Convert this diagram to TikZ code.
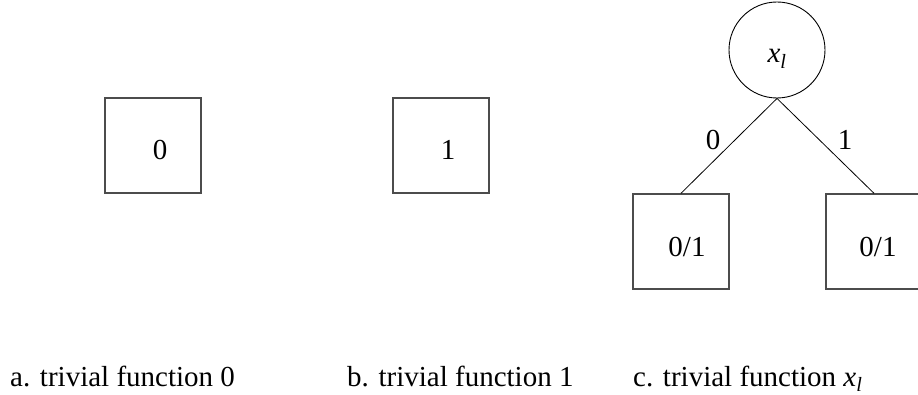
\documentclass[tikz,border=0pt]{standalone}
\usepackage{fontspec}
\setmainfont{Liberation Serif}
\newcommand{\xl}{\textit{x}\textsubscript{\textit{l}}}
\newcommand{\lowtext}[2]{\raisebox{-#1}[0pt][0pt]{#2}}
\begin{document}
\begin{tikzpicture}[x=1pt,y=-1pt,
  every node/.style={font=\fontsize{29}{34}\selectfont},
  leafbox/.style={draw=black!70, line width=1.4pt, rectangle, minimum width=96pt, minimum height=95pt, inner sep=0pt},
  varnode/.style={draw=black, line width=0.9pt, circle, minimum size=96pt, inner sep=0pt},
  edge/.style={draw=black, line width=0.8pt},
  caption/.style={anchor=base west, inner sep=0pt}]
\useasboundingbox (0,0) rectangle (918,395);
\clip (0,0) rectangle (918,395);
\node[leafbox] (b0) at (153,145.5) {\hspace{14pt}\lowtext{14pt}{0}};
\node[leafbox] (b1) at (441,145.5) {\hspace{14pt}\lowtext{14pt}{1}};
\node[varnode] (c) at (777,50) {\lowtext{13pt}{\xl}};
\node[leafbox] (l) at (681,241.5) {\hspace{12pt}\lowtext{15pt}{0/1}};
\node[leafbox] (r) at (874,241.5) {\hspace{8pt}\lowtext{15pt}{0/1}};
\draw[edge] (c.south) -- node[midway, xshift=-16pt, yshift=5.5pt] (e0) {0} (l.north);
\draw[edge] (c.south) -- node[midway, xshift=19.5pt, yshift=5.5pt] (e1) {1} (r.north);
\node[caption] (ca) at (10,386) {a. trivial function 0};
\node[caption] (cb) at (347,386) {b. trivial function 1};
\node[caption] (cc) at (633,386) {c. trivial function \xl};
\end{tikzpicture}
\end{document}
